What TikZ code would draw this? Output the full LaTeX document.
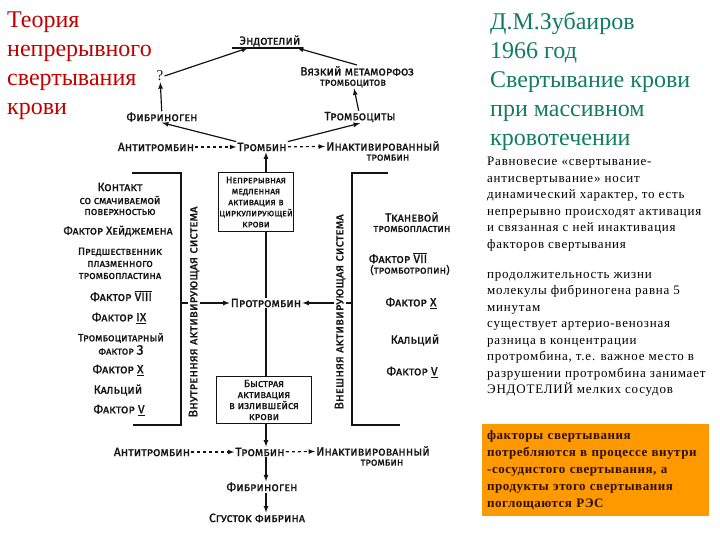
\documentclass[tikz,border=0pt]{standalone}
\usepackage{fontspec}
\setmainfont{Liberation Serif}
\newfontfamily\schemefont[Letters=SmallCaps, FakeBold=1.2]{Fira Sans}
\usepackage{tikz}
\usetikzlibrary{positioning}
\definecolor{titlered}{RGB}{192,0,0}
\definecolor{authgreen}{RGB}{20,125,95}
\definecolor{ink}{RGB}{20,20,20}
\definecolor{noteorange}{RGB}{255,153,0}
\definecolor{notetext}{RGB}{45,15,0}
\tikzset{
    lbl/.style={font=\schemefont\fontsize{12}{13}\selectfont, text=ink, inner sep=1pt, align=center},
    sublbl/.style={font=\schemefont\fontsize{10.5}{11}\selectfont, text=ink, inner sep=1pt, align=center},
    vlbl/.style={font=\schemefont\fontsize{12.5}{13}\selectfont, text=ink, rotate=90, fill=white, inner sep=1pt},
    stagebox/.style={draw=ink, line width=1.2pt, align=center, text=ink, inner sep=1pt},
    link/.style={ink, line width=1.2pt, ->},
    bracket/.style={ink, line width=1.2pt},
    note/.style={anchor=north west, align=left, inner sep=0pt, font=\fontsize{13}{16.5}\selectfont\addfontfeatures{LetterSpace=6}},
}

\begin{document}
\begin{tikzpicture}[x=1pt, y=-1pt, >=latex]
            \useasboundingbox (0,0) rectangle (720,540);
            \node [anchor=north west, align=left, inner sep=0pt, text=titlered, font=\fontsize{24}{29}\selectfont] (title) at (7,12) {Теория\\непрерывного\\свертывания\\крови};
            \node [anchor=north west, align=left, inner sep=0pt, text=authgreen, font=\fontsize{24}{29}\selectfont] (author) at (490,12) {Д.М.Зубаиров\\1966 год\\Свертывание крови\\при массивном\\кровотечении};
            \node [note] (balance) at (487,157) {Равновесие «свертывание-\\антисвертывание» носит\\динамический характер, то есть\\непрерывно происходят активация\\и связанная с ней инактивация\\факторов свертывания};
            \node [note] (lifetime) at (487,272) {продолжительность жизни\\молекулы фибриногена равна 5\\минутам\\существует артерио-венозная\\разница в концентрации\\протромбина, т.е. важное место в\\разрушении протромбина занимает\\ЭНДОТЕЛИЙ мелких сосудов};
            \node [anchor=north west, fill=noteorange, minimum width=227, minimum height=92, text width=217, inner xsep=5, inner ysep=0, align=left, text=notetext, font=\bfseries\fontsize{13}{17}\selectfont\addfontfeatures{LetterSpace=4}] (consumed) at (482,424) {факторы свертывания\\потребляются в процессе внутри\\-сосудистого свертывания, а\\продукты этого свертывания\\поглощаются РЭС};

            \node [lbl] (endo) at (270,41) {Эндотелий};
            \coordinate (endoL) at (248,48);
            \coordinate (endoR) at (297,48);
            \draw [bracket] (232,48) -- (303,48);
            \node [lbl, font=\fontsize{15}{15}\selectfont] (q) at (160,76) {?};
            \node [lbl] (vyaz) at (357,71) {Вязкий метаморфоз};
            \node [sublbl, below=1.5pt of vyaz, xshift=-4pt] (vyaz2) {тромбоцитов};
            \node [lbl] (fibT) at (162,117) {Фибриноген};
            \node [lbl] (trc) at (360,117) {Тромбоциты};
            \node [lbl] (atT) at (156,147) {Антитромбин};
            \node [lbl] (thT) at (262,147) {Тромбин};
            \node [lbl] (inT) at (383,146) {Инактивированный};
            \node [sublbl, below=1.5pt of inT, xshift=5pt] (inT2) {тромбин};
            \draw [link] (fibT) -- (q);
            \draw [link] (q.east) -- (endoL);
            \draw [link] (vyaz.north) -- (endoR);
            \draw [link] (trc) -- (vyaz2);
            \draw [link] (thT.north west) -- (fibT.south);
            \draw [link] (thT.north east) -- (trc.south);
            \draw [link, dashed] (atT) -- (thT);
            \draw [link, dashed] (thT) -- (inT);

            \node [stagebox, minimum width=73, minimum height=59, font=\schemefont\fontsize{9.5}{11}\selectfont] (slow) at (256,202) {Непрерывная\\медленная\\активация в\\циркулирующей\\крови};
            \node [lbl] (pro) at (266,303) {Протромбин};
            \node [stagebox, minimum width=95, minimum height=47, font=\schemefont\fontsize{10.5}{11}\selectfont] (fast) at (264,400) {Быстрая\\активация\\в излившейся\\крови};
            \draw [link] (slow.north -| pro) -- (thT.south -| pro);
            \draw [bracket] (slow.south -| pro) -- (pro.north);
            \draw [bracket] (pro.south) -- (fast.north -| pro);

            \coordinate (lbT) at (181,173);
            \coordinate (rbT) at (352,173);
            \draw [bracket] (132,173) -- (lbT) -- (181,425) -- (133,425);
            \draw [bracket] (388,173) -- (rbT) -- (352,425) -- (400,425);
            \draw [link] (pro -| lbT) -- (pro);
            \draw [link] (pro -| rbT) -- (pro);
            \node [vlbl] (insys) at (194,312) {Внутренняя активирующая система};
            \node [vlbl] (exsys) at (340,312) {Внешняя активирующая система};

            \node [lbl] (contact) at (120,187) {Контакт};
            \node [sublbl] (contact2) at (120,200) {со смачиваемой};
            \node [sublbl] (contact3) at (120,212) {поверхностью};
            \node [lbl, font=\schemefont\fontsize{11.5}{12}\selectfont] (hag) at (118,231) {Фактор Хейджемена};
            \node [sublbl] (pre1) at (120,252) {Предшественник};
            \node [sublbl] (pre2) at (120,264) {плазменного};
            \node [sublbl] (pre3) at (120,276) {тромбопластина};
            \node [lbl] (f8) at (121,296) {Фактор $\overline{\hbox{VIII}}$};
            \node [lbl] (f9) at (119,318) {Фактор \underline{IX}};
            \node [sublbl] (plt1) at (121,338) {Тромбоцитарный};
            \node [sublbl] (plt2) at (121,350) {фактор {\fontsize{14}{14}\selectfont 3}};
            \node [lbl] (f10) at (118,370) {Фактор \underline{X}};
            \node [lbl] (ca1) at (118,390) {Кальций};
            \node [lbl] (f5) at (119,410) {Фактор \underline{V}};

            \node [lbl] (tis1) at (412,217) {Тканевой};
            \node [sublbl] (tis2) at (412,229) {тромбопластин};
            \node [lbl] (f7) at (398,258) {Фактор $\overline{\hbox{VII}}$};
            \node [sublbl] (f7b) at (410,270) {(тромботропин)};
            \node [lbl] (f10r) at (411,303) {Фактор \underline{X}};
            \node [lbl] (ca2) at (415,340) {Кальций};
            \node [lbl] (f5r) at (412,372) {Фактор \underline{V}};

            \node [lbl] (atB) at (152,452) {Антитромбин};
            \node [lbl] (thB) at (260,452) {Тромбин};
            \node [lbl] (inB) at (373,451) {Инактивированный};
            \node [sublbl, below=1.5pt of inB, xshift=9pt] (inB2) {тромбин};
            \node [lbl] (fibB) at (262,487) {Фибриноген};
            \node [lbl] (clot) at (257,518) {Сгусток фибрина};
            \draw [link] (fast.south -| pro) -- (thB.north -| pro);
            \draw [link, dashed] (atB) -- (thB);
            \draw [link, dashed] (thB) -- (inB);
            \draw [link] (thB.south -| pro) -- (fibB.north -| pro);
            \draw [link] (fibB.south -| pro) -- (clot.north -| pro);
\end{tikzpicture}
\end{document}
